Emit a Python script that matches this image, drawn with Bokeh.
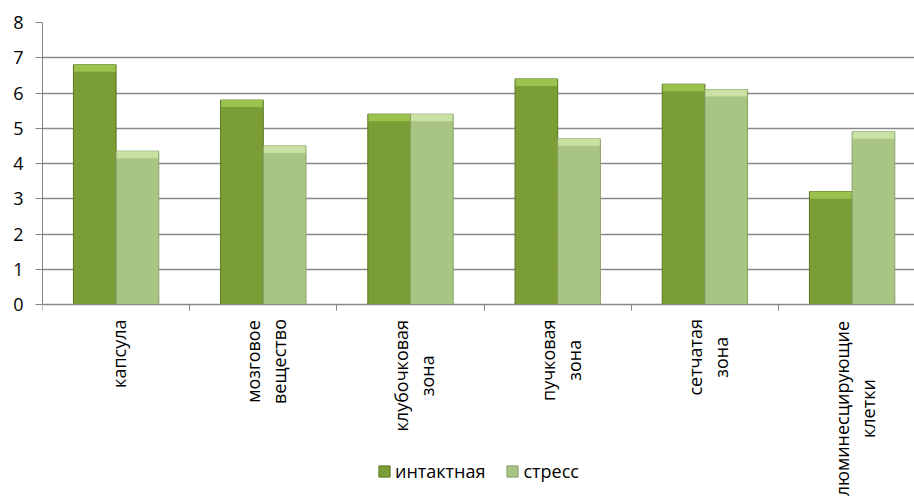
import math
from bokeh.plotting import figure
from bokeh.models import FixedTicker, Range1d, Legend, LegendItem, ColumnDataSource
from bokeh.core.properties import value
from bokeh.embed import file_html
from bokeh.resources import INLINE

categories = ["капсула", "мозговое\nвещество", "клубочковая\nзона", "пучковая\nзона",
              "сетчатая\nзона", "люминесцирующие\nклетки"]
intact = [6.8, 5.8, 5.4, 6.4, 6.25, 3.2]
stress = [4.35, 4.5, 5.4, 4.7, 6.1, 4.9]
series_names = ["интактная", "стресс"]
y_ticks = [0, 1, 2, 3, 4, 5, 6, 7, 8]

FONT = "Open Sans"
FS = 18
n = len(categories)
centers = [i + 0.5 for i in range(n)]
bw = 0.29

# approximate glyph widths (em) for centring the rotated multi-line labels
EM = {"а": .556, "б": .60, "в": .58, "г": .45, "д": .58, "е": .56, "ж": .83, "з": .50,
      "и": .65, "й": .65, "к": .55, "л": .62, "м": .76, "н": .65, "о": .60, "п": .65,
      "р": .61, "с": .48, "т": .48, "у": .50, "ф": .76, "х": .52, "ц": .66, "ч": .62,
      "ш": .93, "щ": .94, "ъ": .64, "ы": .84, "ь": .56, "э": .50, "ю": .86, "я": .58}


def text_len(s):
    return sum(EM.get(ch, .55) for ch in s) * FS


# frame: x 42..914, y(8)=22, y(0)=304, extends to canvas bottom (496)
px_per_unit = (304 - 22) / 8.0
y_bottom = -(496 - 304) / px_per_unit
cap = 7 / px_per_unit  # height of the bevel highlight on top of the bars

p = figure(width=914, height=496, output_backend="svg", toolbar_location=None,
           x_range=Range1d(0, 872 / 147.2), y_range=Range1d(y_bottom, 8),
           min_border_left=42, min_border_right=0, min_border_top=22, min_border_bottom=0)
p.outline_line_color = None
p.background_fill_color = "white"

src = ColumnDataSource(dict(xi=[c - bw / 2 for c in centers], xs=[c + bw / 2 for c in centers],
                            intact=intact, stress=stress,
                            intact_cap=[v - cap for v in intact],
                            stress_cap=[v - cap for v in stress]))
r1 = p.vbar(x="xi", top="intact", width=bw, source=src, fill_color="#7b9d35",
            line_color="#5a7822", line_width=1)
r2 = p.vbar(x="xs", top="stress", width=bw, source=src, fill_color="#a9c583",
            line_color="#88a067", line_width=1)
# bevel highlight
p.vbar(x="xi", top="intact", bottom="intact_cap", width=bw * 0.97, source=src,
       fill_color="#9cc24e", line_color=None)
p.vbar(x="xs", top="stress", bottom="stress_cap", width=bw * 0.97, source=src,
       fill_color="#c9e2a3", line_color=None)

# y axis
p.yaxis.ticker = FixedTicker(ticks=y_ticks)
p.yaxis.bounds = (0, 8)
p.yaxis.axis_line_color = "#868686"
p.yaxis.major_tick_line_color = "#868686"
p.yaxis.major_tick_out = 7
p.yaxis.major_tick_in = 0
p.yaxis.minor_tick_line_color = None
p.yaxis.major_label_standoff = 12
p.yaxis.major_label_text_font = FONT
p.yaxis.major_label_text_font_size = f"{FS}px"
p.yaxis.major_label_text_color = "black"

p.ygrid.ticker = FixedTicker(ticks=y_ticks)
p.ygrid.grid_line_color = "#8a8a8a"
p.ygrid.grid_line_width = 1.3
p.xgrid.grid_line_color = None

# x axis placed at y = 0 inside the frame
p.xaxis.fixed_location = 0
p.xaxis.ticker = FixedTicker(ticks=[], minor_ticks=list(range(n + 1)))
p.xaxis.axis_line_color = "#868686"
p.xaxis.major_tick_line_color = None
p.xaxis.minor_tick_line_color = "#868686"
p.xaxis.minor_tick_out = 6
p.xaxis.minor_tick_in = 0

# category labels: rotated, lines centred on each other, block starting 14px below axis
lx, lt, lxo, lyo = [], [], [], []
for c, lab in zip(centers, categories):
    lines = lab.split("\n")
    L = max(text_len(s) for s in lines)
    k = len(lines)
    for j, s in enumerate(lines):
        lx.append(c)
        lt.append(s)
        lxo.append(3 + (j - (k - 1) / 2) * 26)
        lyo.append(14 + L / 2)
lab_src = ColumnDataSource(dict(x=lx, y=[0] * len(lx), text=lt, xo=lxo, yo=lyo))
p.text(x="x", y="y", text="text", x_offset="xo", y_offset="yo", source=lab_src,
       angle=math.pi / 2, text_align="center", text_baseline="middle",
       text_font=value(FONT), text_font_size=f"{FS}px", text_color="black")

legend = Legend(items=[LegendItem(label=series_names[0], renderers=[r1]),
                       LegendItem(label=series_names[1], renderers=[r2])],
                orientation="horizontal", location=(335, 13))
legend.border_line_color = None
legend.background_fill_alpha = 0
legend.padding = 0
legend.margin = 0
legend.spacing = 20
legend.glyph_width = 14
legend.glyph_height = 14
legend.label_standoff = 4
legend.label_text_font = FONT
legend.label_text_font_size = f"{FS}px"
legend.label_text_color = "black"
p.add_layout(legend, "center")

open("out.html", "w").write(file_html(p, INLINE))
